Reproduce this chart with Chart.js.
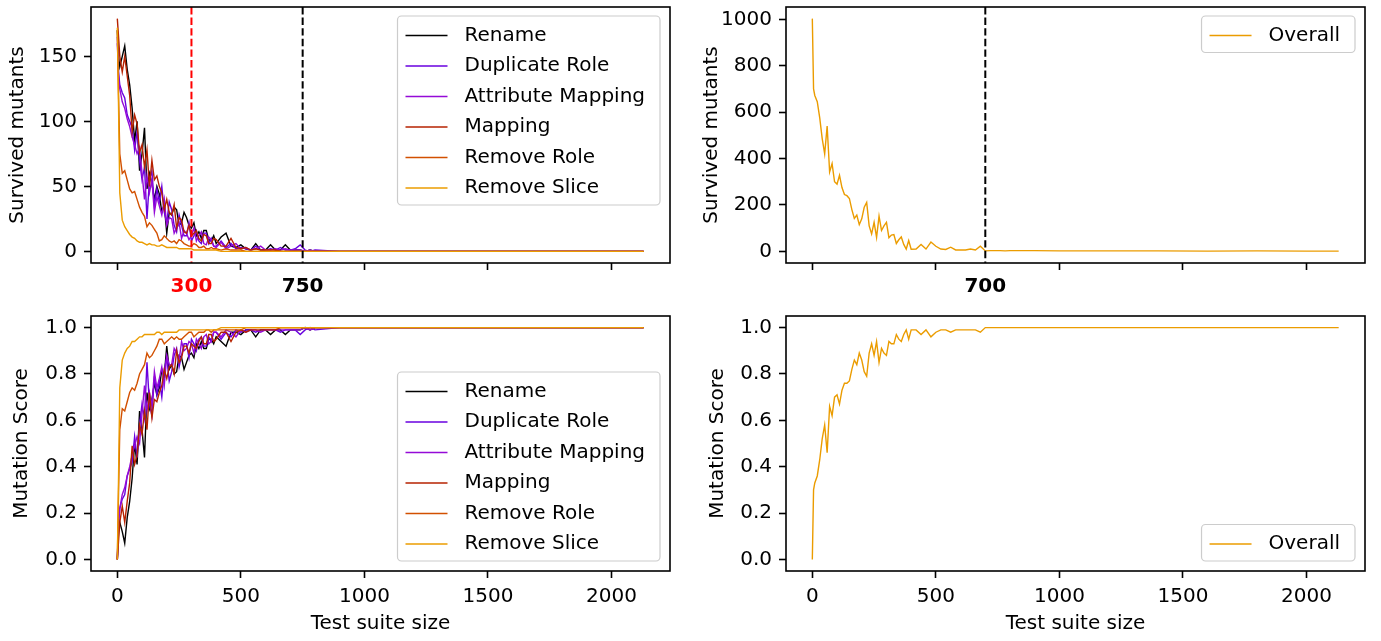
<!DOCTYPE html>
<html>
<head>
<meta charset="utf-8">
<title>Survived mutants and mutation score</title>
<script src="https://cdn.jsdelivr.net/npm/chart.js@4.4.0/dist/chart.umd.min.js"></script>
<style>
  html, body { margin: 0; padding: 0; background: #fff; }
  #wrap { position: relative; width: 1381px; height: 641px; overflow: hidden; }
  .panel { position: absolute; }
  .panel canvas { display: block; }
</style>
</head>
<body>
<div id="wrap">
  <div class="panel" style="left:0;top:0;width:690px;height:300px"><canvas id="survByType"></canvas></div>
  <div class="panel" style="left:690px;top:0;width:691px;height:300px"><canvas id="survOverall"></canvas></div>
  <div class="panel" style="left:0;top:300px;width:690px;height:341px"><canvas id="scoreByType"></canvas></div>
  <div class="panel" style="left:690px;top:300px;width:691px;height:341px"><canvas id="scoreOverall"></canvas></div>
</div>
<script>
// test suite sizes (x values shared by every series)
const testSizes = [
  0, 5, 10, 20, 30, 40, 50, 60, 70, 80,
  90, 100, 110, 120, 130, 140, 150, 160, 170, 180,
  190, 200, 210, 220, 230, 240, 250, 260, 270, 280,
  290, 300, 310, 320, 330, 340, 350, 360, 370, 380,
  390, 400, 420, 440, 460, 480, 500, 520, 540, 560,
  580, 600, 620, 640, 660, 680, 700, 720, 740, 760,
  780, 800, 900, 1000, 1200, 1400, 1600, 1800, 2000, 2130
];

// survived mutants per operator
const survRename = [
  170, 150, 142, 150, 158, 140, 128, 110, 85, 100,
  62, 75, 95, 48, 60, 52, 40, 50, 44, 30,
  36, 14, 30, 28, 34, 32, 20, 22, 30, 26,
  20, 18, 22, 12, 15, 10, 16, 16, 9, 8,
  12, 6, 11, 14, 4, 3, 5, 2, 1, 6,
  1, 1, 5, 1, 1, 5, 1, 1, 1, 0,
  1, 0, 0, 0, 0, 0, 0, 0, 0, 0
];
const survDuplicateRole = [
  165, 138, 128, 122, 118, 105, 100, 95, 78, 92,
  70, 55, 65, 25, 55, 62, 35, 48, 38, 50,
  30, 22, 38, 32, 20, 15, 28, 20, 12, 12,
  22, 8, 12, 16, 8, 6, 14, 14, 6, 10,
  4, 4, 8, 3, 6, 2, 3, 2, 1, 4,
  1, 1, 2, 1, 3, 1, 1, 2, 5, 1,
  0, 1, 0, 0, 0, 0, 0, 0, 0, 0
];
const survAttributeMapping = [
  160, 135, 125, 115, 110, 102, 96, 88, 82, 75,
  80, 60, 40, 58, 45, 55, 30, 42, 35, 28,
  40, 20, 26, 25, 14, 18, 22, 10, 16, 14,
  9, 12, 18, 8, 12, 15, 6, 5, 11, 9,
  4, 3, 7, 2, 4, 6, 2, 3, 1, 2,
  4, 1, 1, 2, 1, 2, 1, 1, 1, 0,
  1, 0, 0, 0, 0, 0, 0, 0, 0, 0
];
const survMapping = [
  179, 165, 150, 138, 150, 135, 120, 92, 105, 98,
  76, 82, 65, 78, 50, 70, 55, 58, 50, 45,
  32, 40, 30, 28, 36, 18, 26, 24, 15, 14,
  20, 12, 14, 16, 10, 8, 13, 12, 6, 6,
  10, 9, 4, 4, 10, 3, 2, 3, 1, 2,
  1, 1, 1, 1, 0, 0, 0, 0, 0, 0,
  0, 0, 0, 0, 0, 0, 0, 0, 0, 0
];
const survRemoveRole = [
  170, 120, 75, 60, 62, 55, 48, 45, 46, 40,
  34, 30, 27, 19, 22, 20, 17, 14, 8, 9,
  12, 10, 8, 7, 8, 6, 9, 8, 6, 5,
  4, 4, 6, 5, 3, 3, 4, 2, 2, 3,
  2, 2, 1, 2, 1, 1, 1, 0, 0, 0,
  0, 0, 0, 0, 0, 0, 0, 0, 0, 0,
  0, 0, 0, 0, 0, 0, 0, 0, 0, 0
];
const survRemoveSlice = [
  172, 110, 45, 24, 19, 16, 13, 11, 10, 8,
  7, 7, 6, 5, 6, 5, 5, 4, 4, 5,
  4, 3, 3, 3, 3, 3, 2, 2, 2, 2,
  2, 2, 1, 1, 1, 1, 1, 1, 1, 1,
  1, 1, 0, 0, 0, 0, 0, 0, 0, 0,
  0, 0, 0, 0, 0, 0, 0, 0, 0, 0,
  0, 0, 0, 0, 0, 0, 0, 0, 0, 0
];

// mutation score per operator
const scoreRename = [
  0, .12, .16, .12, .07, .18, .25, .35, .50, .41,
  .64, .56, .44, .72, .65, .69, .76, .71, .74, .82,
  .79, .92, .82, .84, .80, .81, .88, .87, .82, .85,
  .88, .89, .87, .93, .91, .94, .91, .91, .95, .95,
  .93, .96, .94, .92, .98, .98, .97, .99, .99, .96,
  .99, .99, .97, .99, .99, .97, .99, .99, .99, 1,
  .99, 1, 1, 1, 1, 1, 1, 1, 1, 1
];
const scoreDuplicateRole = [
  0, .16, .22, .26, .28, .36, .39, .42, .53, .44,
  .58, .67, .61, .85, .67, .62, .79, .71, .77, .70,
  .82, .87, .77, .81, .88, .91, .83, .88, .93, .93,
  .87, .95, .93, .90, .95, .96, .92, .92, .96, .94,
  .98, .98, .95, .98, .96, .99, .98, .99, .99, .98,
  .99, .99, .99, .99, .98, .99, .99, .99, .97, .99,
  1, .99, 1, 1, 1, 1, 1, 1, 1, 1
];
const scoreAttributeMapping = [
  0, .16, .22, .28, .31, .36, .40, .45, .49, .53,
  .50, .63, .75, .64, .72, .66, .81, .74, .78, .83,
  .75, .88, .84, .84, .91, .89, .86, .94, .90, .91,
  .94, .93, .89, .95, .93, .91, .96, .97, .93, .94,
  .98, .98, .96, .99, .98, .96, .99, .98, .99, .99,
  .98, .99, .99, .99, .99, .99, .99, .99, .99, 1,
  .99, 1, 1, 1, 1, 1, 1, 1, 1, 1
];
const scoreMapping = [
  0, .08, .16, .23, .16, .25, .33, .49, .41, .45,
  .58, .54, .64, .56, .72, .61, .69, .68, .72, .75,
  .82, .78, .83, .84, .80, .90, .85, .87, .92, .92,
  .89, .93, .92, .91, .94, .96, .93, .93, .97, .97,
  .94, .95, .98, .98, .94, .98, .99, .98, .99, .99,
  .99, .99, .99, .99, 1, 1, 1, 1, 1, 1,
  1, 1, 1, 1, 1, 1, 1, 1, 1, 1
];
const scoreRemoveRole = [
  0, .29, .56, .65, .64, .68, .72, .74, .73, .76,
  .80, .82, .84, .89, .87, .88, .90, .92, .95, .95,
  .93, .94, .95, .96, .95, .96, .95, .95, .96, .97,
  .98, .98, .96, .97, .98, .98, .98, .99, .99, .98,
  .99, .99, .99, .99, .99, .99, .99, 1, 1, 1,
  1, 1, 1, 1, 1, 1, 1, 1, 1, 1,
  1, 1, 1, 1, 1, 1, 1, 1, 1, 1
];
const scoreRemoveSlice = [
  0, .36, .74, .86, .89, .91, .92, .94, .94, .95,
  .96, .96, .97, .97, .97, .97, .97, .98, .98, .97,
  .98, .98, .98, .98, .98, .98, .99, .99, .99, .99,
  .99, .99, .99, .99, .99, .99, .99, .99, .99, .99,
  .99, .99, 1, 1, 1, 1, 1, 1, 1, 1,
  1, 1, 1, 1, 1, 1, 1, 1, 1, 1,
  1, 1, 1, 1, 1, 1, 1, 1, 1, 1
];

// all operators together
const survOverallValues = [
  1003, 700, 672, 645, 575, 486, 420, 540, 342, 378,
  300, 290, 328, 275, 245, 240, 228, 180, 142, 156,
  115, 140, 190, 211, 110, 75, 125, 60, 152, 90,
  110, 125, 59, 70, 72, 34, 50, 62, 30, 10,
  47, 9, 10, 30, 10, 40, 22, 10, 8, 18,
  6, 6, 6, 10, 6, 22, 2, 3, 3, 3,
  2, 3, 3, 2, 2, 2, 1, 2, 1, 1
];
const scoreOverallValues = [
  0, .30, .33, .36, .43, .52, .58, .46, .66, .62,
  .70, .71, .67, .73, .76, .76, .77, .82, .86, .84,
  .89, .86, .81, .79, .89, .93, .88, .94, .85, .91,
  .89, .88, .94, .93, .93, .97, .95, .94, .97, .99,
  .95, .99, .99, .97, .99, .96, .98, .99, .99, .98,
  .99, .99, .99, .99, .99, .98, 1, 1, 1, 1,
  1, 1, 1, 1, 1, 1, 1, 1, 1, 1
];

const operatorNames = ['Rename', 'Duplicate Role', 'Attribute Mapping', 'Mapping', 'Remove Role', 'Remove Slice'];
const operatorColors = ['#000000', '#6901df', '#950ad7', '#b62200', '#d25000', '#eb9c00'];
const overallColor = '#eb9c00';

// tick values
const xTickValues = [0, 500, 1000, 1500, 2000];
const survTypeTicks = [0, 50, 100, 150];
const survOverallTicks = [0, 200, 400, 600, 800, 1000];
const scoreTicks = [0, 0.2, 0.4, 0.6, 0.8, 1.0];

// cut-off markers on the top panels
const typeMarks = [{ value: 300, color: '#ff0000' }, { value: 750, color: '#000000' }];
const overallMarks = [{ value: 700, color: '#000000' }];

Chart.defaults.font.family = "'DejaVu Sans', sans-serif";
Chart.defaults.font.size = 20;
Chart.defaults.color = '#000';

const FONT = "'DejaVu Sans', sans-serif";

// value of the tick in a scriptable context (may be missing)
function tickValue(c) {
  return c && c.tick ? c.tick.value : null;
}

// dashed markers, frame and a legend drawn inside the axes
const panelDecor = {
  id: 'panelDecor',
  afterDatasetsDraw(chart, args, opts) {
    const ctx = chart.ctx;
    const area = chart.chartArea;
    const xs = chart.scales.x;
    ctx.save();

    (opts.marks || []).forEach(m => {
      const px = xs.getPixelForValue(m.value);
      ctx.beginPath();
      ctx.setLineDash([7.4, 3.2]);
      ctx.strokeStyle = m.color;
      ctx.lineWidth = 2;
      ctx.moveTo(px, area.top);
      ctx.lineTo(px, area.bottom);
      ctx.stroke();
    });
    ctx.setLineDash([]);

    // frame
    ctx.strokeStyle = '#000';
    ctx.lineWidth = 1.6;
    ctx.strokeRect(area.left, area.top, area.right - area.left, area.bottom - area.top);

    // legend
    if (opts.legend) {
      const items = chart.data.datasets;
      ctx.font = '20px ' + FONT;
      const textW = Math.max(...items.map(d => ctx.measureText(d.label).width));
      const w = 67 + textW + 15;
      const h = 16 + items.length * 20.5 + (items.length - 1) * 10;
      const left = area.right - 10 - w;
      const top = opts.legend === 'bottom' ? area.bottom - 10 - h : area.top + 9;

      ctx.beginPath();
      ctx.roundRect(left, top, w, h, 4);
      ctx.fillStyle = 'rgba(255,255,255,0.8)';
      ctx.fill();
      ctx.strokeStyle = '#cccccc';
      ctx.lineWidth = 1.2;
      ctx.stroke();

      items.forEach((d, i) => {
        const cy = top + 8 + 11.5 + i * 30.5;
        ctx.beginPath();
        ctx.strokeStyle = d.borderColor;
        ctx.lineWidth = d.borderWidth;
        ctx.moveTo(left + 8, cy);
        ctx.lineTo(left + 50, cy);
        ctx.stroke();
        ctx.fillStyle = '#000';
        ctx.textAlign = 'left';
        ctx.textBaseline = 'middle';
        ctx.fillText(d.label, left + 67, cy);
      });
    }
    ctx.restore();
  }
};

function buildPanel(id, p) {
  const marks = p.marks || [];
  const markOf = v => marks.find(m => m.value === v);
  const xTicks = xTickValues.concat(marks.map(m => m.value)).sort((a, b) => a - b);

  const datasets = p.series.map((s, i) => ({
    label: s.label,
    data: testSizes.map((x, k) => ({ x: x, y: s.values[k] })),
    borderColor: s.color,
    borderWidth: 1.4,
    pointRadius: 0,
    tension: 0,
    fill: false,
    order: p.series.length - i   // later series on top
  }));

  new Chart(document.getElementById(id), {
    type: 'line',
    data: { datasets: datasets },
    options: {
      responsive: true,
      maintainAspectRatio: false,
      animation: false,
      devicePixelRatio: 1,
      layout: { padding: { top: p.padTop, right: p.padRight, left: 0, bottom: 0 } },
      plugins: {
        legend: { display: false },
        tooltip: { enabled: false },
        panelDecor: { marks: marks, legend: p.legend }
      },
      scales: {
        x: {
          type: 'linear',
          min: -106.5,
          max: 2236.5,
          afterBuildTicks: ax => { ax.ticks = xTicks.map(v => ({ value: v })); },
          afterFit: ax => { ax.height = p.xHeight; ax.paddingLeft = 0; ax.paddingRight = 0; },
          border: { display: false },
          grid: {
            drawOnChartArea: false,
            tickLength: 7,
            tickWidth: 1.6,
            tickColor: c => (markOf(tickValue(c)) ? 'rgba(0,0,0,0)' : '#000')
          },
          ticks: {
            autoSkip: false,
            maxRotation: 0,
            padding: p.xTitle ? 7 : 5,
            color: c => { const m = markOf(tickValue(c)); return m ? m.color : '#000'; },
            font: c => ({ family: FONT, size: 20, weight: markOf(tickValue(c)) ? 'bold' : 'normal' }),
            callback: v => (p.xLabels || markOf(v) ? String(v) : '')
          },
          title: {
            display: !!p.xTitle,
            text: p.xTitle || '',
            font: { family: FONT, size: 20 },
            padding: { top: 0, bottom: 5 }
          }
        },
        y: {
          type: 'linear',
          min: p.yMin,
          max: p.yMax,
          afterBuildTicks: ax => { ax.ticks = p.yTicks.map(v => ({ value: v })); },
          afterFit: ax => { ax.width = p.yWidth; ax.paddingTop = 0; ax.paddingBottom = 0; },
          border: { display: false },
          grid: { drawOnChartArea: false, tickLength: 7, tickWidth: 1.6, tickColor: '#000' },
          ticks: {
            padding: 7,
            font: { family: FONT, size: 20 },
            callback: v => (p.yDecimals ? Number(v).toFixed(p.yDecimals) : String(v))
          },
          title: {
            display: true,
            text: p.yTitle,
            font: { family: FONT, size: 20 },
            padding: { top: p.yTitlePad, bottom: 0 }
          }
        }
      }
    },
    plugins: [panelDecor]
  });
}

const survByOperator = [survRename, survDuplicateRole, survAttributeMapping, survMapping, survRemoveRole, survRemoveSlice];
const scoreByOperator = [scoreRename, scoreDuplicateRole, scoreAttributeMapping, scoreMapping, scoreRemoveRole, scoreRemoveSlice];

buildPanel('survByType', {
  series: operatorNames.map((n, i) => ({ label: n, values: survByOperator[i], color: operatorColors[i] })),
  marks: typeMarks, legend: 'top',
  padTop: 7, padRight: 20, xHeight: 37, yWidth: 91,
  yMin: -8.95, yMax: 187.95, yTicks: survTypeTicks,
  yTitle: 'Survived mutants', yTitlePad: 6
});

buildPanel('survOverall', {
  series: [{ label: 'Overall', values: survOverallValues, color: overallColor }],
  marks: overallMarks, legend: 'top',
  padTop: 7, padRight: 16, xHeight: 37, yWidth: 96,
  yMin: -50.15, yMax: 1053.15, yTicks: survOverallTicks,
  yTitle: 'Survived mutants', yTitlePad: 10
});

buildPanel('scoreByType', {
  series: operatorNames.map((n, i) => ({ label: n, values: scoreByOperator[i], color: operatorColors[i] })),
  legend: 'bottom', xLabels: true, xTitle: 'Test suite size',
  padTop: 16, padRight: 20, xHeight: 70, yWidth: 91,
  yMin: -0.05, yMax: 1.05, yTicks: scoreTicks, yDecimals: 1,
  yTitle: 'Mutation Score', yTitlePad: 10
});

buildPanel('scoreOverall', {
  series: [{ label: 'Overall', values: scoreOverallValues, color: overallColor }],
  legend: 'bottom', xLabels: true, xTitle: 'Test suite size',
  padTop: 16, padRight: 16, xHeight: 70, yWidth: 96,
  yMin: -0.05, yMax: 1.05, yTicks: scoreTicks, yDecimals: 1,
  yTitle: 'Mutation Score', yTitlePad: 16
});
</script>
</body>
</html>
